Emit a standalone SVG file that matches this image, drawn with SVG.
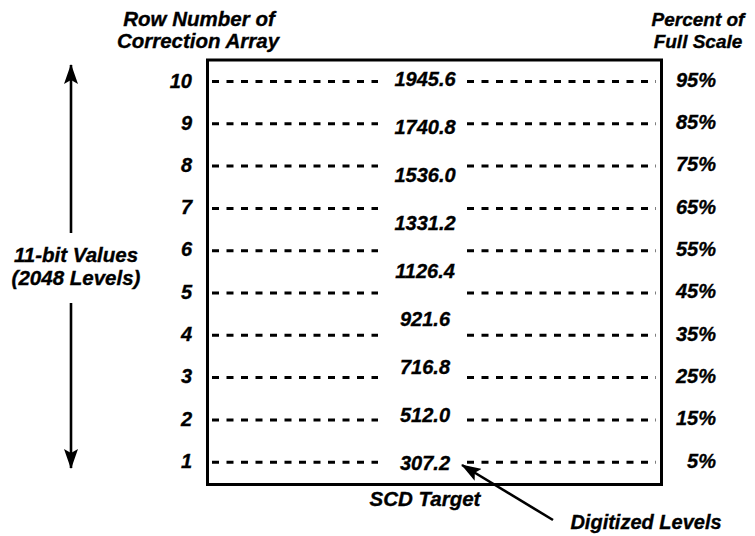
<svg xmlns="http://www.w3.org/2000/svg" width="755" height="536" viewBox="0 0 755 536">
<style>
text{font-family:"Liberation Sans",Arial,sans-serif;font-weight:bold;font-style:italic;fill:#000;stroke:#000;stroke-width:0.35}
.h{font-size:20.5px;text-anchor:middle}
.n{font-size:20px;text-anchor:end}
.v{font-size:20px;text-anchor:middle}
.p{font-size:20px;text-anchor:end}
.d{stroke:#000;stroke-width:3;stroke-dasharray:7 7.5;fill:none}
.ln{stroke:#000;stroke-width:2.6;fill:none}
</style>
<defs>
<marker id="ah" viewBox="0 0 20 14" refX="19" refY="7" markerWidth="20" markerHeight="14" markerUnits="userSpaceOnUse" orient="auto">
<path d="M0,0 L20,7 L0,14 L4,7 Z" fill="#000"/>
</marker>
</defs>
<rect width="755" height="536" fill="#fff"/>
<g id="headers">
<text class="h" x="199" y="26">Row Number of</text>
<text class="h" x="198" y="48">Correction Array</text>
<text class="h" x="698" y="26" style="font-size:19px">Percent of</text>
<text class="h" x="698" y="48" style="font-size:19px">Full Scale</text>
</g>
<g id="scd-target">
<rect x="207.5" y="60" width="454" height="424.5" fill="none" stroke="#000" stroke-width="3"/>
<text class="v" x="425" y="506" style="font-size:20.5px">SCD Target</text>
</g>
<g id="levels">
<path class="d" d="M212,81.5H378M467,81.5H656"/>
<path class="d" d="M212,123.8H378M467,123.8H656"/>
<path class="d" d="M212,166H378M467,166H656"/>
<path class="d" d="M212,208.4H378M467,208.4H656"/>
<path class="d" d="M212,250.7H378M467,250.7H656"/>
<path class="d" d="M212,293H378M467,293H656"/>
<path class="d" d="M212,335.3H378M467,335.3H656"/>
<path class="d" d="M212,377.6H378M467,377.6H656"/>
<path class="d" d="M212,419.9H378M467,419.9H656"/>
<path class="d" d="M212,462.2H378M467,462.2H656"/>
</g>
<g id="row-numbers">
<text class="n" x="192" y="88">10</text>
<text class="n" x="192" y="130">9</text>
<text class="n" x="192" y="172">8</text>
<text class="n" x="192" y="214">7</text>
<text class="n" x="192" y="256">6</text>
<text class="n" x="192" y="299">5</text>
<text class="n" x="192" y="341">4</text>
<text class="n" x="192" y="383">3</text>
<text class="n" x="192" y="426">2</text>
<text class="n" x="192" y="468">1</text>
</g>
<g id="values">
<text class="v" x="425" y="86">1945.6</text>
<text class="v" x="425" y="134">1740.8</text>
<text class="v" x="425" y="182">1536.0</text>
<text class="v" x="425" y="230">1331.2</text>
<text class="v" x="425" y="278">1126.4</text>
<text class="v" x="425" y="326">921.6</text>
<text class="v" x="425" y="374">716.8</text>
<text class="v" x="425" y="422">512.0</text>
<text class="v" x="425" y="470">307.2</text>
</g>
<g id="percents">
<text class="p" x="716" y="87">95%</text>
<text class="p" x="716" y="129">85%</text>
<text class="p" x="716" y="171">75%</text>
<text class="p" x="716" y="214">65%</text>
<text class="p" x="716" y="256">55%</text>
<text class="p" x="716" y="298">45%</text>
<text class="p" x="716" y="341">35%</text>
<text class="p" x="716" y="383">25%</text>
<text class="p" x="716" y="425">15%</text>
<text class="p" x="716" y="468">5%</text>
</g>
<g id="bit-range">
<text class="h" x="76" y="262" style="font-size:20.5px">11-bit Values</text>
<text class="h" x="76" y="285" style="font-size:20.5px">(2048 Levels)</text>
</g>
<g id="digitized-levels">
<text class="h" x="646" y="529" style="font-size:20px">Digitized Levels</text>
</g>
<g id="connectors">
<path class="ln" d="M71,233V65" marker-end="url(#ah)"/>
<path class="ln" d="M71,303V468" marker-end="url(#ah)"/>
<path class="ln" d="M553,520L462,465" marker-end="url(#ah)"/>
</g>
</svg>
